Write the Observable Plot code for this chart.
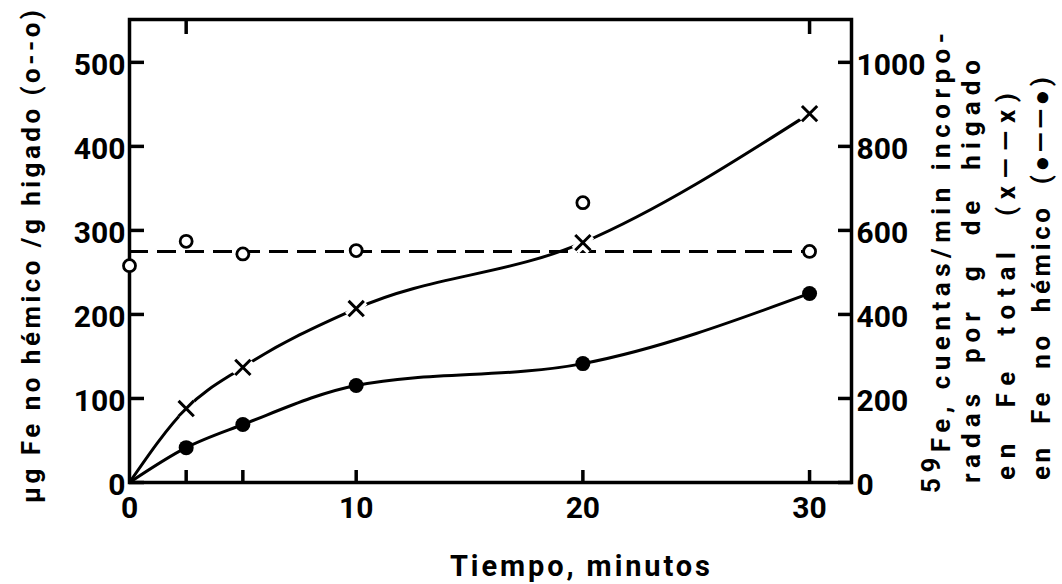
<!DOCTYPE html>
<html><head><meta charset="utf-8">
<script src="https://cdn.jsdelivr.net/npm/d3@7"></script>
<script src="https://cdn.jsdelivr.net/npm/@observablehq/plot@0.6"></script>
<style>html,body{margin:0;padding:0;background:#fff} svg{display:block}</style>
</head><body><div id="chart"></div>
<script>
// ---- data ----
const times = [0, 2.5, 5, 10, 20, 30];                 // minutes
const nonHemeFeUg = [258, 287, 272, 276, 333, 275];    // µg Fe no hémico / g hígado (open circles, left axis)
const nonHemeFeLevel = 275;                            // dashed mean level
const lineTimes = [0, 2.5, 5, 10, 20, 30];
const totalFeCounts = [0, 176, 274, 414, 571, 878];    // 59Fe cpm/g en Fe total (x, right axis)
const nonHemeCounts = [0, 83, 138, 231, 283, 450];     // 59Fe cpm/g en Fe no hémico (●, right axis)
const leftTicks = [0, 100, 200, 300, 400, 500];
const rightTicks = [0, 200, 400, 600, 800, 1000];
const xTickLabels = [0, 10, 20, 30];
const xBottomTicks = [2.5, 5, 10, 20, 30];
const xTopTicks = [2.5, 30];
const rightPerLeft = 2; // right axis units per left axis unit

const circles = times.map((t, i) => ({t, v: nonHemeFeUg[i]}));
const total = lineTimes.map((t, i) => ({t, c: totalFeCounts[i]}));
const nonheme = lineTimes.map((t, i) => ({t, c: nonHemeCounts[i]}));
const yc = d => d.c / rightPerLeft;

const SW = 3.5;
const plot = Plot.plot({
  width: 1062, height: 584,
  marginLeft: 129, marginRight: 211, marginTop: 19, marginBottom: 102,
  x: {domain: [0, 31.85], axis: null},
  y: {domain: [0, 551], axis: null},
  style: {fontFamily: "Roboto, 'Liberation Sans', sans-serif", fontSize: "30px", fontWeight: "bold", color: "black", background: "white"},
  marks: [
    Plot.frame({strokeWidth: SW}),
    // left axis
    Plot.axisY({anchor: "left", ticks: leftTicks, tickSize: 15, dx: 15, strokeWidth: SW, fill: "none", label: null}),
    Plot.axisY({anchor: "left", ticks: leftTicks, tickSize: 0, tickPadding: 4, dy: 3, label: null}),
    // right axis (counts = 2 x left units)
    Plot.axisY({anchor: "right", ticks: rightTicks.map(v => v / rightPerLeft), tickSize: 14, dx: -14, strokeWidth: SW, fill: "none", label: null}),
    Plot.axisY({anchor: "right", ticks: rightTicks.map(v => v / rightPerLeft), tickFormat: d => String(d * rightPerLeft), tickSize: 0, tickPadding: 5, dy: 3, label: null}),
    // bottom / top axes
    Plot.axisX({anchor: "bottom", ticks: xBottomTicks, tickSize: 12, dy: -12, strokeWidth: SW, fill: "none", label: null}),
    Plot.axisX({anchor: "bottom", ticks: xTickLabels, tickSize: 0, tickPadding: 14, label: null}),
    Plot.axisX({anchor: "top", ticks: xTopTicks, tickSize: 14, dy: 14, strokeWidth: SW, fill: "none", label: null}),
    // dashed level for non-heme iron
    Plot.ruleY([nonHemeFeLevel], {x1: d3.min(times), x2: d3.max(times), strokeWidth: 3, strokeDasharray: "19,9"}),
    // curves
    Plot.line(total, {x: "t", y: yc, curve: "monotone-x", strokeWidth: 3}),
    Plot.line(nonheme, {x: "t", y: yc, curve: "monotone-x", strokeWidth: 3}),
    // markers
    Plot.dot(total.filter(d => d.t > 0), {x: "t", y: yc, symbol: "times", r: 7, stroke: "white", strokeWidth: 10}),
    Plot.dot(total.filter(d => d.t > 0), {x: "t", y: yc, symbol: "times", r: 7, stroke: "black", strokeWidth: 3}),
    Plot.dot(nonheme.filter(d => d.t > 0), {x: "t", y: yc, r: 7.5, fill: "black"}),
    Plot.dot(circles, {x: "t", y: "v", r: 6, fill: "white", stroke: "black", strokeWidth: 2.8})
  ]
});
document.getElementById("chart").appendChild(plot);

// ---- axis titles as real text ----
const svg = d3.select(plot);
const LF = "Roboto, 'Liberation Sans', sans-serif";
function vtext(x, y, len, size, parts) {
  const t = svg.append("text")
    .attr("transform", `translate(${x},${y}) rotate(-90)`)
    .attr("text-anchor", "start")
    .attr("font-family", LF).attr("font-weight", "bold")
    .attr("font-size", size).attr("fill", "black")
    .attr("textLength", len).attr("lengthAdjust", "spacing");
  parts.forEach(p => t.append("tspan").attr("dy", p.dy || 0).text(p.s));
  return t;
}
vtext(40, 503, 493, 26, [{s: "µg Fe no hémico /g higado (o--o)"}]);
vtext(950, 493, 460, 26, [{s: "59", dy: -10}, {s: "Fe, cuentas/min incorpo-", dy: 10}]);
vtext(980, 483, 423, 26, [{s: "radas  por  g  de  higado"}]);
vtext(1015, 480, 387, 26, [{s: "en  Fe  total  (x——x)"}]);
vtext(1050, 480, 403, 26, [{s: "en  Fe  no  hémico  (●——●)"}]);
svg.append("text")
  .attr("x", 580).attr("y", 576)
  .attr("font-family", LF).attr("font-weight", "bold").attr("font-size", 29).attr("fill", "black")
  .attr("textLength", 260).attr("lengthAdjust", "spacing")
  .text("Tiempo, minutos");
</script>
</body></html>
